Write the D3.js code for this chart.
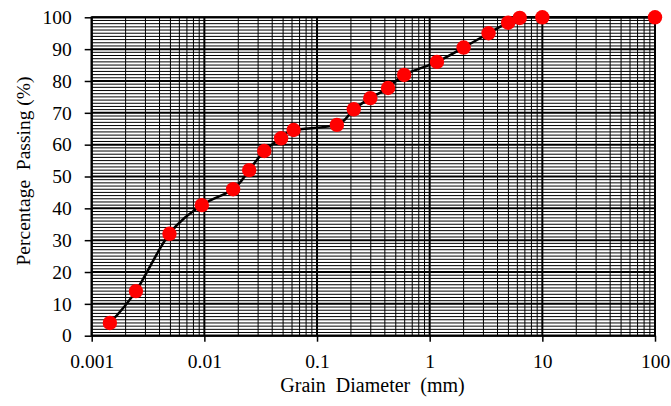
<!DOCTYPE html>
<html>
<head>
<meta charset="utf-8">
<script src="https://cdn.jsdelivr.net/npm/d3@7"></script>
<style>
  html, body { margin: 0; padding: 0; background: #fff; }
  svg text { font-family: 'Liberation Serif', 'DejaVu Serif', serif; }
</style>
</head>
<body>
<svg id="chart" width="671" height="406"></svg>
<script>
// ---- data ----
const grainDiameter = [0.00145, 0.00247, 0.0049, 0.0095, 0.018, 0.025, 0.034, 0.048, 0.062, 0.15, 0.212, 0.297, 0.427, 0.593, 1.16, 2.0, 3.33, 4.97, 6.3, 10, 100];
const percentPassing = [4, 14, 32, 41, 46, 52, 58, 62, 64.6, 66.2, 71.1, 74.6, 77.8, 81.9, 86, 90.5, 95, 98.3, 99.8, 100, 100];
const xTickValues = [0.001, 0.01, 0.1, 1, 10, 100];
const xTickLabels = ["0.001", "0.01", "0.1", "1", "10", "100"];
const yTickValues = [0, 10, 20, 30, 40, 50, 60, 70, 80, 90, 100];
const xTitle = "Grain\u00a0\u00a0Diameter\u00a0\u00a0(mm)";
const yTitle = "Percentage\u00a0\u00a0Passing (%)";

// ---- layout ----
const FONT = "'Liberation Serif', 'DejaVu Serif', serif";
const FS = "19.5px";
const svg = d3.select("#chart");
const L = 91.7, R = 655, T = 17.3, B = 335.7;
const x = d3.scaleLog().domain([0.001, 100]).range([L, R]);
const y = d3.scaleLinear().domain([0, 100]).range([B, T]);

const grid = svg.append("g");
for (let v = 1; v < 100; v++) {
  if (v % 10 === 0) continue;
  grid.append("line").attr("x1", L).attr("x2", R).attr("y1", y(v)).attr("y2", y(v))
    .attr("stroke", "#000").attr("stroke-width", 1);
}
for (let e = -3; e < 2; e++) {
  for (let k = 2; k <= 9; k++) {
    const v = k * Math.pow(10, e);
    grid.append("line").attr("x1", x(v)).attr("x2", x(v)).attr("y1", T).attr("y2", B)
      .attr("stroke", "#000").attr("stroke-width", 1);
  }
}
yTickValues.forEach(v => {
  grid.append("line").attr("x1", L).attr("x2", R).attr("y1", y(v)).attr("y2", y(v))
    .attr("stroke", "#000").attr("stroke-width", 2);
});
xTickValues.forEach(v => {
  grid.append("line").attr("x1", x(v)).attr("x2", x(v)).attr("y1", T).attr("y2", B)
    .attr("stroke", "#000").attr("stroke-width", 2);
});
svg.append("rect").attr("x", L).attr("y", T).attr("width", R - L).attr("height", B - T)
  .attr("fill", "none").attr("stroke", "#000").attr("stroke-width", 2);

const yAxis = svg.append("g").attr("transform", `translate(${L},0)`)
  .call(d3.axisLeft(y).tickValues(yTickValues).tickSize(7).tickPadding(13).tickFormat(d3.format("d")));
const xAxis = svg.append("g").attr("transform", `translate(0,${B})`)
  .call(d3.axisBottom(x).tickValues(xTickValues).tickSize(6).tickPadding(12)
    .tickFormat((d, i) => xTickLabels[i]));
[yAxis, xAxis].forEach(a => {
  a.attr("font-family", FONT).attr("font-size", FS);
  a.select(".domain").remove();
  a.selectAll(".tick line").attr("stroke", "#000").attr("stroke-width", 1.5);
  a.selectAll("text").attr("fill", "#000");
});

svg.append("text").attr("x", 372.5).attr("y", 392).attr("text-anchor", "middle")
  .attr("font-family", FONT).attr("font-size", "20px").attr("fill", "#000").text(xTitle);
svg.append("text").attr("transform", "translate(30,171) rotate(-90)").attr("text-anchor", "middle")
  .attr("font-family", FONT).attr("font-size", FS).attr("fill", "#000").text(yTitle);

const pts = grainDiameter.map((d, i) => [d, percentPassing[i]]);
const line = d3.line().x(d => x(d[0])).y(d => y(d[1])).curve(d3.curveCardinal.tension(0));
svg.append("path").datum(pts).attr("d", line).attr("fill", "none")
  .attr("stroke", "#000").attr("stroke-width", 2.5);
svg.append("g").selectAll("circle").data(pts).join("circle")
  .attr("cx", d => x(d[0])).attr("cy", d => y(d[1])).attr("r", 7.2).attr("fill", "#ff0000");
</script>
</body>
</html>
